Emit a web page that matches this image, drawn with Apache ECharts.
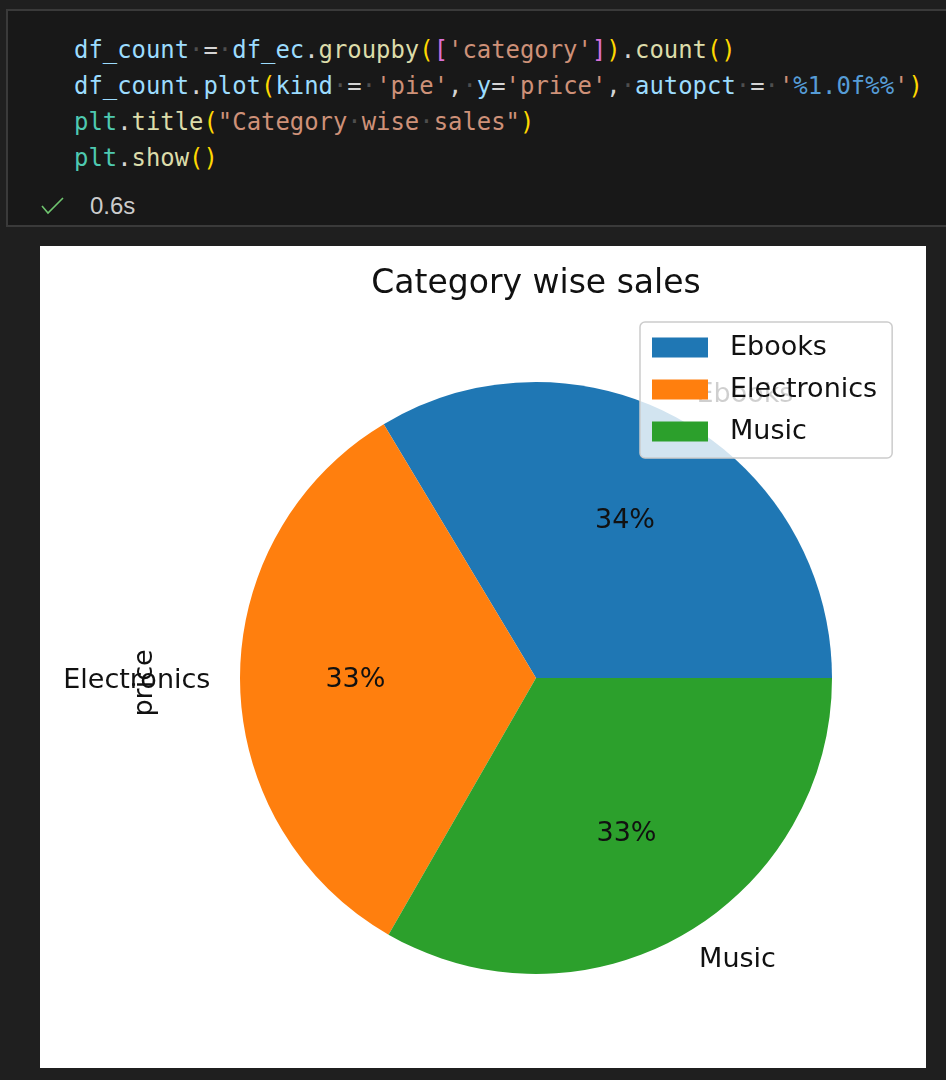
<!DOCTYPE html>
<html>
<head>
<meta charset="utf-8">
<script src="https://cdn.jsdelivr.net/npm/echarts@6/dist/echarts.min.js"></script>
<style>
  html, body { margin:0; padding:0; width:946px; height:1080px; overflow:hidden; background:#1f1f1f; }
  #cell { position:absolute; left:6px; top:9px; width:960px; height:218px; background:#181818; border:2px solid #3a3a3a; box-sizing:border-box; }
  #code { position:absolute; left:74px; top:32px; margin:0; font-family:"DejaVu Sans Mono", monospace; font-size:23.9px; line-height:36px; color:#d4d4d4; white-space:pre; }
  .v { color:#9cdcfe; } .f { color:#dcdcaa; } .s { color:#ce9178; } .y { color:#ffd700; } .p { color:#da70d6; }
  .c { color:#4ec9b0; } .b { color:#569cd6; } .w { color:#4e4e4e; } .o { color:#d4d4d4; }
  #check { position:absolute; left:41px; top:196px; }
  #time { position:absolute; left:90px; top:191px; font-family:"Liberation Sans", Arial, sans-serif; font-size:24px; line-height:30px; color:#cccccc; }
  #chart { position:absolute; left:40px; top:246px; width:886px; height:822px; background:#ffffff; }
</style>
</head>
<body>
<div id="cell"></div>
<pre id="code"><span class="v">df_count</span><span class="w">·</span><span class="o">=</span><span class="w">·</span><span class="v">df_ec</span>.<span class="f">groupby</span><span class="y">(</span><span class="p">[</span><span class="s">'category'</span><span class="p">]</span><span class="y">)</span>.<span class="f">count</span><span class="y">()</span>
<span class="v">df_count</span>.<span class="v">plot</span><span class="y">(</span><span class="v">kind</span><span class="w">·</span><span class="o">=</span><span class="w">·</span><span class="s">'pie'</span>,<span class="w">·</span><span class="v">y</span><span class="o">=</span><span class="s">'price'</span>,<span class="w">·</span><span class="v">autopct</span><span class="w">·</span><span class="o">=</span><span class="w">·</span><span class="s">'</span><span class="b">%1.0f%%</span><span class="s">'</span><span class="y">)</span>
<span class="c">plt</span>.<span class="f">title</span><span class="y">(</span><span class="s">"Category</span><span class="w">·</span><span class="s">wise</span><span class="w">·</span><span class="s">sales"</span><span class="y">)</span>
<span class="c">plt</span>.<span class="f">show</span><span class="y">()</span></pre>
<svg id="check" width="24" height="20" viewBox="0 0 24 20"><polyline points="1,10 7,17 22,2" fill="none" stroke="#6fc56f" stroke-width="1.6"/></svg>
<div id="time">0.6s</div>
<div id="chart"></div>
<script>
const categories = ['Ebooks', 'Electronics', 'Music'];
const counts = [336, 331, 333];
const sliceColors = ['#1f77b4', '#ff7f0e', '#2ca02c'];
const chartTitle = 'Category wise sales';
const yAxisLabel = 'price';

const FONT = 'DejaVu Sans';
const R = 296;
const CX = 496, CY = 432;

const pieData = categories.map((name, i) => ({ name: name, value: counts[i], itemStyle: { color: sliceColors[i] } }));

const chart = echarts.init(document.getElementById('chart'), null, { renderer: 'canvas' });
chart.setOption({
  animation: false,
  backgroundColor: '#ffffff',
  legend: {
    orient: 'vertical',
    left: 600, top: 76,
    padding: [12, 15, 13, 12],
    itemWidth: 56, itemHeight: 20, itemGap: 15,
    icon: 'rect',
    selectedMode: false,
    backgroundColor: 'rgba(255,255,255,0.8)',
    borderColor: '#cccccc', borderWidth: 1.5, borderRadius: 5,
    textStyle: { fontSize: 27, fontFamily: FONT, color: '#111', padding: [0, 0, 0, 17] },
    data: categories
  },
  graphic: [
    { type: 'text', x: CX, y: 38, silent: true,
      style: { text: chartTitle, fontSize: 33, fontFamily: FONT, fill: '#111', align: 'center', verticalAlign: 'middle' } },
    { type: 'text', x: 105, y: 437, rotation: Math.PI / 2, silent: true, z: 10,
      style: { text: yAxisLabel, fontSize: 27, fontFamily: FONT, fill: '#111', align: 'center', verticalAlign: 'middle' } }
  ],
  series: [
    {
      type: 'pie', center: [CX, CY], radius: [0, R],
      startAngle: 0, clockwise: false, avoidLabelOverlap: false, silent: true,
      itemStyle: { borderWidth: 0 },
      emphasis: { disabled: true },
      label: { show: true, position: 'outside', formatter: '{b}', fontSize: 27, fontFamily: FONT, color: '#111', distanceToLabelLine: 0 },
      labelLine: { show: false, length: 0.1 * R, length2: 0 },
      data: pieData
    },
    {
      type: 'pie', center: [CX, CY], radius: [0, 1.2 * R],
      startAngle: 0, clockwise: false, avoidLabelOverlap: false, silent: true,
      itemStyle: { color: 'rgba(0,0,0,0)', borderWidth: 0 },
      emphasis: { disabled: true },
      label: { show: true, position: 'inside', formatter: p => Math.round(p.percent) + '%', fontSize: 27, fontFamily: FONT, color: '#111' },
      labelLine: { show: false },
      data: categories.map((name, i) => ({ name: name, value: counts[i] }))
    }
  ]
});
</script>
</body>
</html>
